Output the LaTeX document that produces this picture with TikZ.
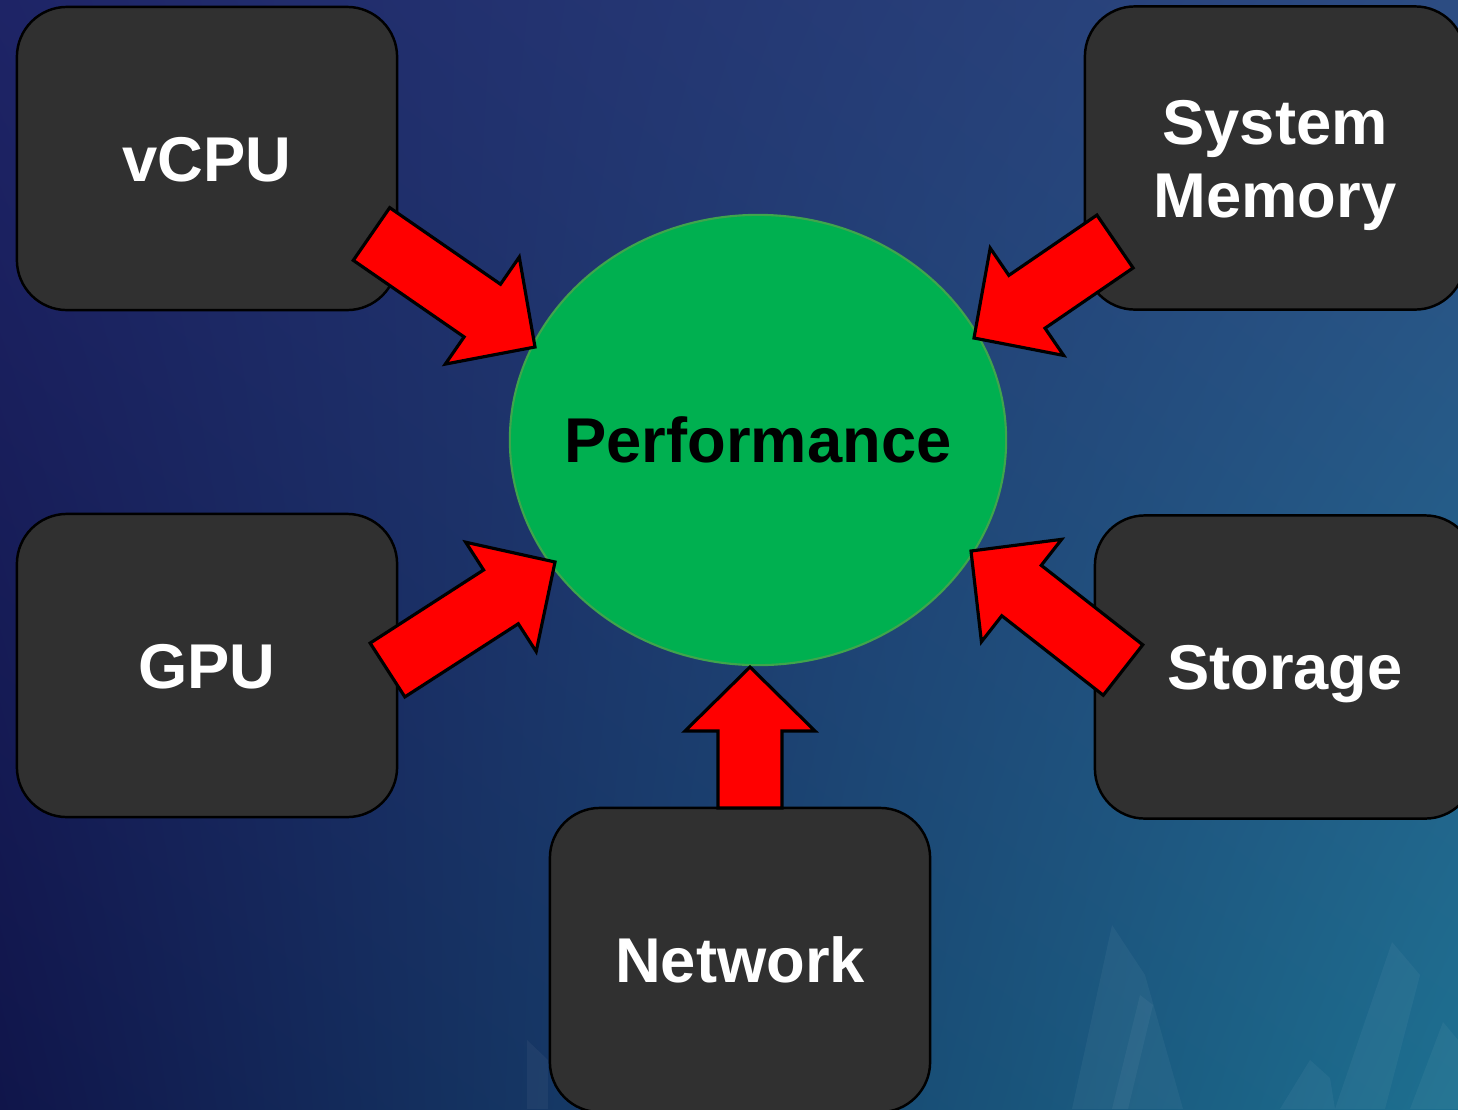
\documentclass[tikz,border=0pt]{standalone}
\usepackage{fontspec}
\setmainfont{Liberation Sans}
\usetikzlibrary{calc,shapes.geometric,shadings}
\definecolor{boxgray}{HTML}{303030}
\definecolor{perfgreen}{HTML}{00B050}
\definecolor{perfedge}{HTML}{3FA54C}
\definecolor{bgUL}{HTML}{1E2466}
\definecolor{bgUR}{HTML}{2C4C82}
\definecolor{bgLL}{HTML}{10154A}
\definecolor{bgLR}{HTML}{1D7090}
\newcommand\aws{0.32cm}
\newcommand\ahw{0.65cm}
\newcommand\ahl{0.64cm}
\tikzset{
  box/.style={draw=black, line width=0.7pt, fill=boxgray, rounded corners=0.5cm,
    minimum width=3.8cm, minimum height=3.03cm, inner sep=0pt, text=white,
    font=\bfseries\fontsize{18}{20.7}\selectfont, text height=12.9pt, text depth=0pt, align=center},
  perf/.style={ellipse, draw=perfedge, line width=0.6pt, fill=perfgreen, inner sep=0pt,
    minimum width=4.96cm, minimum height=4.5cm, text=black,
    font=\bfseries\fontsize{18}{20.7}\selectfont, text height=12.9pt, text depth=0pt},
  blockarrowstyle/.style={draw=black, line width=0.9pt, fill=red, line join=miter},
  shard/.style={fill=white, opacity=0.045}
}
\newcommand\blockarrow[2]{%
  \draw[blockarrowstyle] let \p1=(#1), \p2=(#2),
    \n1={atan2(\y2-\y1,\x2-\x1)}, \n2={veclen(\x2-\x1,\y2-\y1)} in
    ($(\p1)+(\n1+90:\aws)$) -- ($(\p1)+(\n1:{\n2-\ahl})+(\n1+90:\aws)$)
    -- ($(\p1)+(\n1:{\n2-\ahl})+(\n1+90:\ahw)$) -- (\p2)
    -- ($(\p1)+(\n1:{\n2-\ahl})+(\n1-90:\ahw)$) -- ($(\p1)+(\n1:{\n2-\ahl})+(\n1-90:\aws)$)
    -- ($(\p1)+(\n1-90:\aws)$) -- cycle;}
\begin{document}
\begin{tikzpicture}[x=0.01cm, y=-0.01cm]
  \useasboundingbox (0,0) rectangle (1458,1109);
  \clip (0,0) rectangle (1458,1109);
  % background
  \shade[upper left=bgUL, upper right=bgUR, lower left=bgLL, lower right=bgLR]
    (0,0) rectangle (1458,1109);
  % faint shards
  \fill[shard] (1112,925) -- (1145,975) -- (1183,1109) -- (1072,1109) -- cycle;
  \fill[shard] (1140,995) -- (1153,1005) -- (1128,1109) -- (1112,1109) -- cycle;
  \fill[shard] (1392,942) -- (1420,975) -- (1385,1109) -- (1335,1109) -- cycle;
  \fill[shard] (1443,1022) -- (1458,1040) -- (1458,1109) -- (1410,1109) -- cycle;
  \fill[shard] (1310,1060) -- (1330,1078) -- (1335,1109) -- (1280,1109) -- cycle;
  \fill[shard] (527,1040) -- (548,1060) -- (548,1109) -- (527,1109) -- cycle;
  % central ellipse
  \node[perf] (perf) at (758,440) {\makebox[0pt]{Performance}};
  % boxes
  \node[box] (vcpu) at (207,158.5) {vCPU};
  \node[box, text height=33.6pt] (mem) at (1275,158) {System\\Memory};
  \node[box] (gpu) at (207,665.5) {GPU};
  \node[box] (stor) at (1285,667) {Storage};
  \node[box, minimum height=3.04cm] (net) at (740,960) {Network};
  % arrow ends
  \coordinate (t1) at (371.5,234);  \coordinate (h1) at (535,347);
  \coordinate (t2) at (1115,241.5); \coordinate (h2) at (974,338);
  \coordinate (t3) at (387.5,670);  \coordinate (h3) at (555,562);
  \coordinate (t4) at (1123,670);   \coordinate (h4) at (971,551);
  \coordinate (t5) at (750,808);    \coordinate (h5) at (750,667);
  \blockarrow{t1}{h1}
  \blockarrow{t2}{h2}
  \blockarrow{t3}{h3}
  \blockarrow{t4}{h4}
  \blockarrow{t5}{h5}
\end{tikzpicture}
\end{document}
